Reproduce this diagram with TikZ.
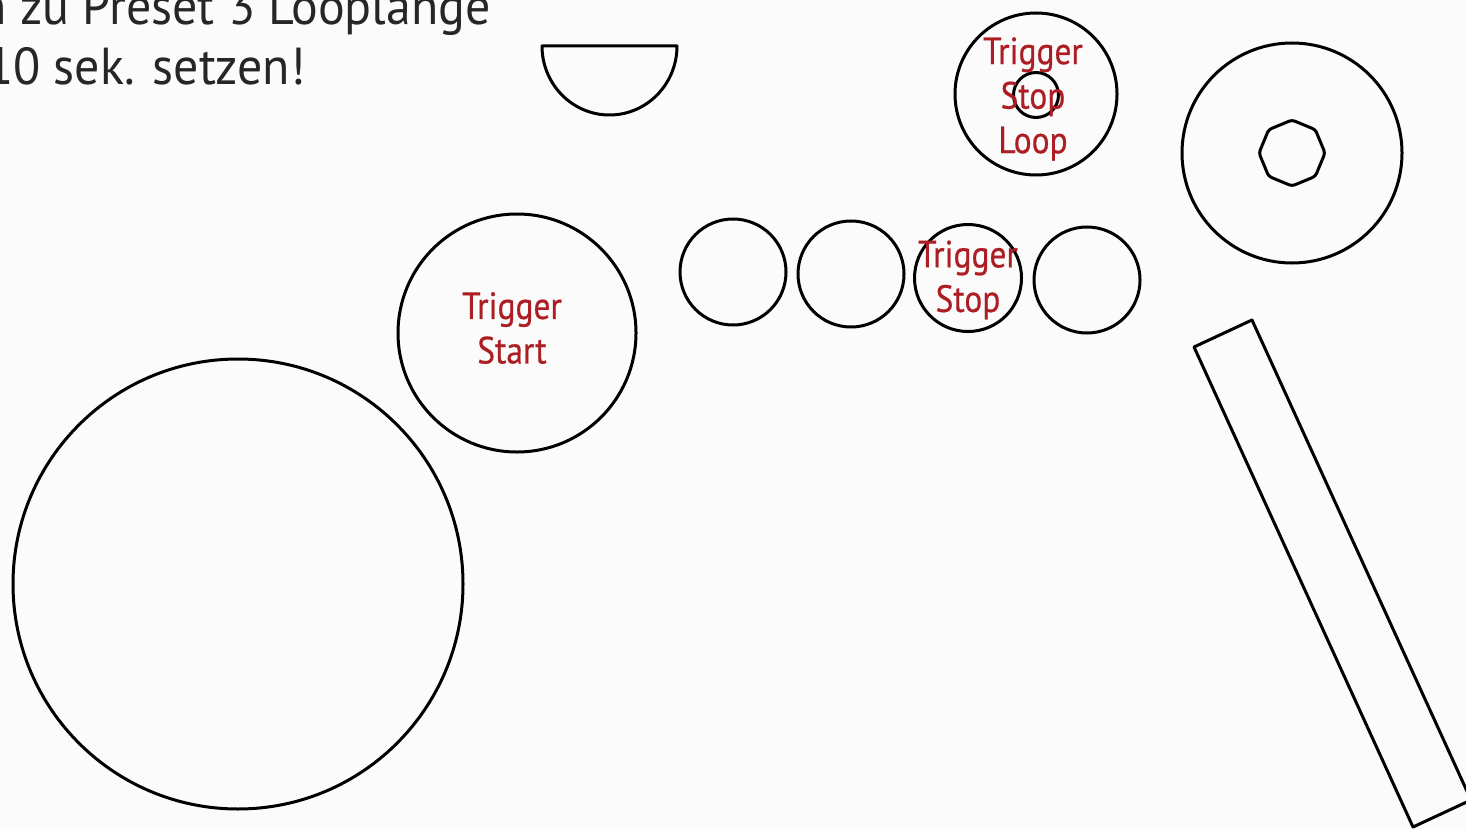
\documentclass[tikz,border=0pt]{standalone}
\usepackage{fontspec}
\setmainfont{PT Sans}
\newfontfamily\lblfont{PT Sans}[FakeStretch=0.88,FakeBold=0.5]
\newfontfamily\notefont{PT Sans}[FakeStretch=0.96]
\usetikzlibrary{shapes.geometric}
\definecolor{lblred}{RGB}{172,30,36}
\definecolor{bgcol}{RGB}{251,251,251}
\begin{document}
\begin{tikzpicture}[x=1pt,y=-1pt,
  ring/.style={draw=black, line width=3pt, circle, inner sep=0pt, minimum size=#1},
  lbl/.style={text=lblred, align=center, inner sep=0pt, font=\lblfont\fontsize{38}{44.5}\selectfont},
  note/.style={text=black!85, inner sep=0pt, font=\notefont\fontsize{52}{60}\selectfont},
  outline/.style={draw=black, line width=3pt, line join=round}]
\fill[bgcol] (0,0) rectangle (1466,829);
\useasboundingbox (0,0) rectangle (1466,829);
\clip (0,0) rectangle (1466,829);
% text at top left
\node[note, anchor=base east] (note1) at (491,25) {n zu Preset 3 Looplange};
\node[note, anchor=base west] (note2) at (-14,85) {10 sek. setzen!};
% semicircle
\draw[outline] (542,46) -- (677,46) arc[start angle=0, end angle=180, x radius=67.5, y radius=69] -- cycle;
% circles
\node[ring=450] (big) at (238,584) {};
\node[ring=238] (start) at (517,333) {};
\node[ring=106] (c1) at (733,272) {};
\node[ring=106] (c2) at (851,274) {};
\node[ring=107] (stop) at (968,278) {};
\node[ring=106] (c4) at (1087,280) {};
\node[ring=162] (loop) at (1036,94) {};
\node[ring=45] (loophole) at (1036,95) {};
\node[ring=220] (wheel) at (1292,153) {};
\node[draw=black, line width=3pt, regular polygon, regular polygon sides=8, shape border rotate=22.5, inner sep=0pt, minimum size=66, rounded corners=3pt] (hub) at (1292,153) {};
% bar
\draw[outline] (1194,347) -- (1252,320) -- (1471,800) -- (1413,827) -- cycle;
% labels
\node[lbl] (startlbl) at ([xshift=-5,yshift=5]start.center) {Trigger\\Start};
\node[lbl] (stoplbl) at ([yshift=-2]stop.center) {Trigger\\Stop};
\node[lbl] (looplbl) at ([xshift=-3,yshift=-5]loop.center) {Trigger\\Stop\\Loop};
\end{tikzpicture}
\end{document}
